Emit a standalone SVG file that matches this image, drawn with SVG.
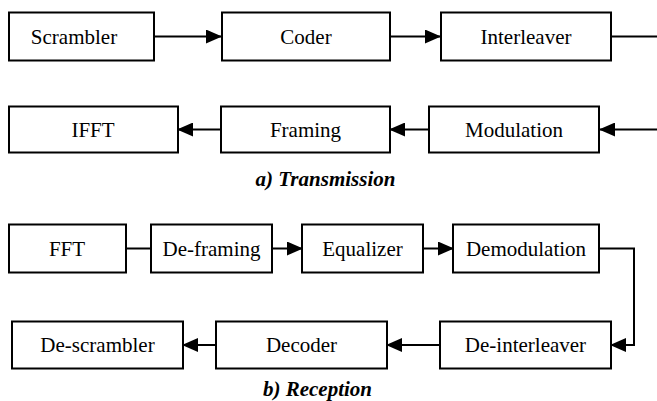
<svg xmlns="http://www.w3.org/2000/svg" width="657" height="401" viewBox="0 0 657 401">
<style>
.box{fill:#fff;stroke:#000;stroke-width:2}
.lbl{font-family:'Liberation Serif';font-size:21px;fill:#000;text-anchor:middle}
.cap{font-family:'Liberation Serif';font-size:21px;font-weight:bold;font-style:italic;fill:#000;text-anchor:middle}
.con{fill:none;stroke:#000;stroke-width:2}
</style>
<defs>
<marker id="ah" markerUnits="userSpaceOnUse" markerWidth="16" markerHeight="14" refX="15" refY="7" orient="auto">
<path d="M0,0 L16,7 L0,14 z" fill="#000"/>
</marker>
</defs>
<rect width="657" height="401" fill="#fff"/>
<g id="connectors">
<path class="con" d="M154,36.5 H221" marker-end="url(#ah)"/>
<path class="con" d="M390,36.5 H440" marker-end="url(#ah)"/>
<path class="con" d="M611,36.5 H657"/>
<path class="con" d="M657,129.5 H600" marker-end="url(#ah)"/>
<path class="con" d="M429,129.5 H390" marker-end="url(#ah)"/>
<path class="con" d="M221,129.5 H178" marker-end="url(#ah)"/>
<path class="con" d="M126,248.5 H151"/>
<path class="con" d="M272,248.5 H302" marker-end="url(#ah)"/>
<path class="con" d="M423,248.5 H453" marker-end="url(#ah)"/>
<path class="con" d="M599,248.5 H634 V345 H611" marker-end="url(#ah)"/>
<path class="con" d="M440,345 H387" marker-end="url(#ah)"/>
<path class="con" d="M216,345 H183" marker-end="url(#ah)"/>
</g>
<g id="scrambler"><rect class="box" x="9" y="12.5" width="145" height="48"/><text class="lbl" font-family="Liberation Serif" x="74" y="43.5">Scrambler</text></g>
<g id="coder"><rect class="box" x="222" y="12.5" width="168" height="48"/><text class="lbl" font-family="Liberation Serif" x="306" y="43.5">Coder</text></g>
<g id="interleaver"><rect class="box" x="441" y="12.5" width="170" height="48"/><text class="lbl" font-family="Liberation Serif" x="526" y="43.5">Interleaver</text></g>
<g id="ifft"><rect class="box" x="9" y="106.5" width="169" height="46"/><text class="lbl" font-family="Liberation Serif" x="93" y="136.5">IFFT</text></g>
<g id="framing"><rect class="box" x="221" y="106.5" width="169" height="46"/><text class="lbl" font-family="Liberation Serif" x="305.5" y="136.5">Framing</text></g>
<g id="modulation"><rect class="box" x="429" y="106.5" width="170" height="46"/><text class="lbl" font-family="Liberation Serif" x="514" y="136.5">Modulation</text></g>
<text class="cap" font-family="Liberation Serif" x="325.5" y="186">a) Transmission</text>
<g id="fft"><rect class="box" x="9" y="224.5" width="117" height="48"/><text class="lbl" font-family="Liberation Serif" x="67" y="255.5">FFT</text></g>
<g id="deframing"><rect class="box" x="151" y="224.5" width="121" height="48"/><text class="lbl" font-family="Liberation Serif" x="211.5" y="255.5">De-framing</text></g>
<g id="equalizer"><rect class="box" x="302" y="224.5" width="121" height="48"/><text class="lbl" font-family="Liberation Serif" x="362.5" y="255.5">Equalizer</text></g>
<g id="demodulation"><rect class="box" x="453" y="224.5" width="146" height="48"/><text class="lbl" font-family="Liberation Serif" x="526" y="255.5">Demodulation</text></g>
<g id="descrambler"><rect class="box" x="12" y="321.5" width="171" height="47"/><text class="lbl" font-family="Liberation Serif" x="97.5" y="352">De-scrambler</text></g>
<g id="decoder"><rect class="box" x="216" y="321.5" width="171" height="47"/><text class="lbl" font-family="Liberation Serif" x="301.5" y="352">Decoder</text></g>
<g id="deinterleaver"><rect class="box" x="440" y="321.5" width="171" height="47"/><text class="lbl" font-family="Liberation Serif" x="525.5" y="352">De-interleaver</text></g>
<text class="cap" font-family="Liberation Serif" x="317.5" y="396">b) Reception</text>
</svg>
